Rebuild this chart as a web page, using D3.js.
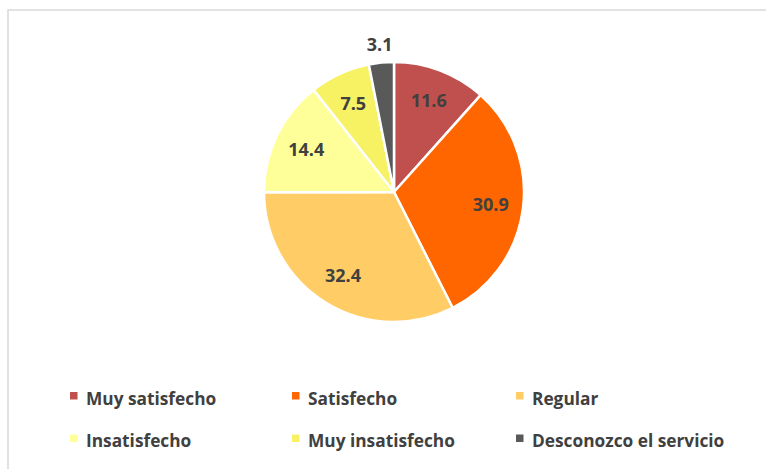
<!DOCTYPE html>
<html>
<head>
<meta charset="utf-8">
<script src="https://cdn.jsdelivr.net/npm/d3@7"></script>
<style>
  body { margin: 0; background: #fff; }
  svg { display: block; }
</style>
</head>
<body>
<div id="chart"></div>
<script>
// data
const categories = ["Muy satisfecho", "Satisfecho", "Regular", "Insatisfecho", "Muy insatisfecho", "Desconozco el servicio"];
const values = [11.6, 30.9, 32.4, 14.4, 7.5, 3.1];
const colors = ["#C0504D", "#FF6600", "#FFCC66", "#FFFF99", "#F7F164", "#595959"];

const width = 766, height = 469;
const cx = 394, cy = 192, radius = 130;
const font = "'Open Sans', sans-serif";

const svg = d3.select("#chart").append("svg")
  .attr("width", width)
  .attr("height", height);

// frame
svg.append("path")
  .attr("d", `M8,${height} L8,10 L${width},10`)
  .attr("fill", "none")
  .attr("stroke", "#d9d9d9")
  .attr("stroke-width", 1.5);

const data = categories.map((c, i) => ({ name: c, value: values[i], color: colors[i] }));

const pie = d3.pie().value(d => d.value).sort(null);
const arcs = pie(data);

const arc = d3.arc().innerRadius(0).outerRadius(radius);
const labelArc = d3.arc().innerRadius(radius * 0.75).outerRadius(radius * 0.75);
const outerArc = d3.arc().innerRadius(radius * 1.14).outerRadius(radius * 1.14);

const g = svg.append("g").attr("transform", `translate(${cx},${cy})`);

g.selectAll("path.slice")
  .data(arcs)
  .enter().append("path")
  .attr("class", "slice")
  .attr("d", arc)
  .attr("fill", d => d.data.color)
  .attr("stroke", "#fff")
  .attr("stroke-width", 2.5)
  .attr("stroke-linejoin", "round");

g.selectAll("text.lbl")
  .data(arcs)
  .enter().append("text")
  .attr("class", "lbl")
  .attr("transform", d => {
    const p = (d.endAngle - d.startAngle) < 0.25 ? outerArc.centroid(d) : labelArc.centroid(d);
    return `translate(${p})`;
  })
  .attr("text-anchor", "middle")
  .attr("dy", "0.36em")
  .style("font-family", font)
  .style("font-weight", "bold")
  .style("font-size", "18px")
  .style("fill", "#404040")
  .text(d => d.data.value.toFixed(1));

// legend
const colX = [70, 292, 516];
const rowY = [398.5, 441];
const legend = svg.append("g").selectAll("g")
  .data(data)
  .enter().append("g")
  .attr("transform", (d, i) => `translate(${colX[i % 3]},${rowY[Math.floor(i / 3)]})`);

legend.append("rect")
  .attr("x", 0).attr("y", -6.5)
  .attr("width", 7.5).attr("height", 7.5)
  .attr("fill", d => d.color);

legend.append("text")
  .attr("x", 16)
  .attr("dy", "0.36em")
  .style("font-family", font)
  .style("font-weight", "bold")
  .style("font-size", "17.3px")
  .style("fill", "#404040")
  .text(d => d.name);
</script>
</body>
</html>
